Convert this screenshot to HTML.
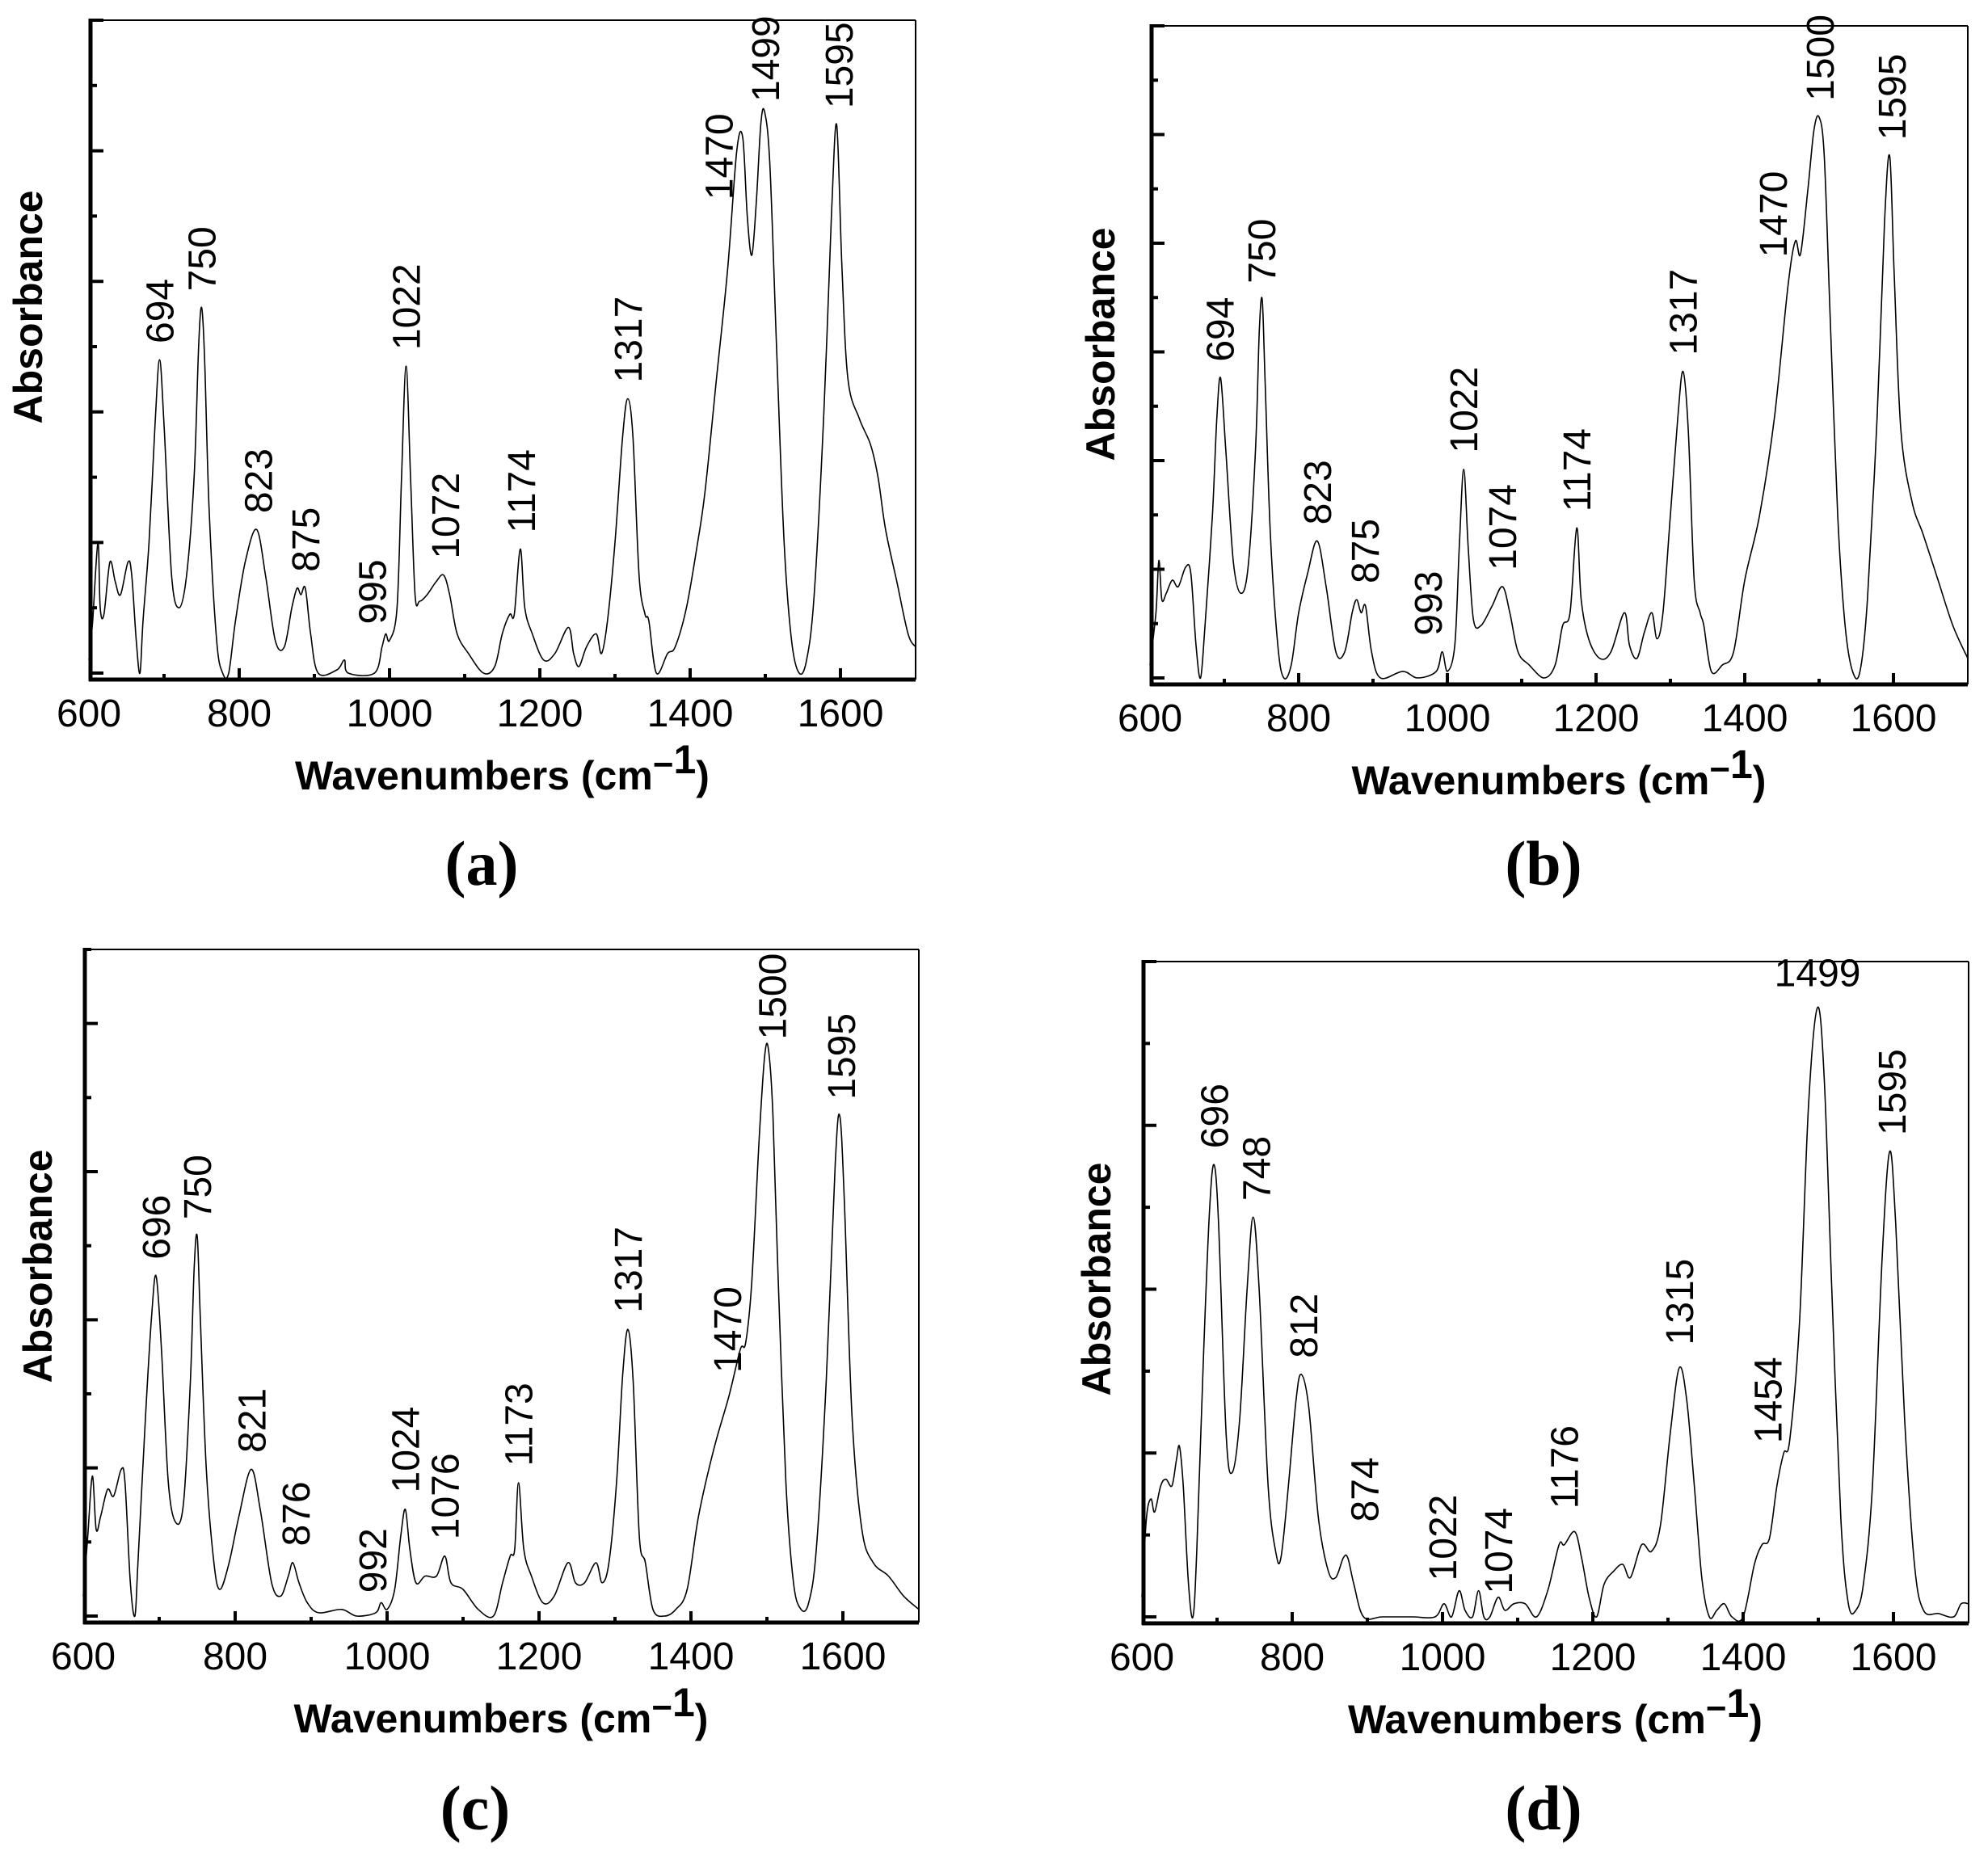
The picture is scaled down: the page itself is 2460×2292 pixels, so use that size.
<!DOCTYPE html>
<html><head><meta charset="utf-8"><style>
html,body{margin:0;padding:0;background:#fff;}
svg{display:block;}
</style></head><body>
<svg id="s" xmlns="http://www.w3.org/2000/svg" width="2460" height="2292" viewBox="0 0 2460 2292">
<rect width="2460" height="2292" fill="#fff"/>
</svg>
<script>
const S=document.getElementById('s');
const NS='http://www.w3.org/2000/svg';
function el(t,a,txt){const e=document.createElementNS(NS,t);for(const k in a)e.setAttribute(k,a[k]);if(txt!==undefined)e.textContent=txt;S.appendChild(e);return e;}
function P(s){const a=s.trim().split(';').map(p=>p.trim().split(',').map(Number));return a;}
const panels=[
{x0:110,x1:1133,yT:25,yB:841,top:25,nt:10,lab:'(a)',lx:596,ly:1067,absx:35,absy:380,
pts:P(`600,0.02;605,0.08;612,0.2;615,0.1;620,0.09;628,0.17;635,0.14;642,0.12;652,0.17;657,0.15;663,0.05;668,0.0;672,0.08;680,0.2;688,0.38;694,0.48;700,0.38;710,0.15;720,0.1;730,0.15;740,0.3;746,0.5;750,0.56;754,0.48;760,0.25;770,0.05;778,0.0;786,0.0;795,0.08;808,0.17;823,0.22;835,0.15;848,0.05;860,0.04;870,0.1;877,0.13;882,0.12;888,0.13;895,0.06;905,0.0;930,0.005;940,0.02;945,0.0;980,0.0;990,0.04;995,0.06;1000,0.05;1010,0.1;1016,0.3;1022,0.47;1028,0.3;1034,0.12;1040,0.11;1050,0.12;1062,0.14;1072,0.15;1080,0.12;1090,0.06;1105,0.03;1125,0.0;1140,0.01;1150,0.06;1160,0.09;1166,0.09;1174,0.19;1180,0.1;1190,0.06;1205,0.02;1220,0.03;1238,0.07;1245,0.03;1252,0.01;1262,0.04;1275,0.06;1282,0.03;1290,0.08;1300,0.2;1310,0.36;1317,0.42;1324,0.36;1332,0.15;1340,0.09;1345,0.08;1355,0.0;1370,0.03;1380,0.04;1395,0.1;1410,0.2;1420,0.28;1435,0.45;1450,0.62;1462,0.8;1470,0.82;1476,0.7;1482,0.64;1488,0.72;1494,0.84;1499,0.86;1506,0.78;1515,0.5;1525,0.2;1535,0.05;1545,0.0;1555,0.02;1565,0.12;1578,0.4;1588,0.7;1595,0.84;1602,0.62;1610,0.45;1625,0.39;1640,0.35;1650,0.3;1660,0.22;1675,0.14;1690,0.06;1700,0.04`),
labels:[['694',694,0.5],['750',750,0.58],['823',825,0.24],['875',888,0.15],['995',977,0.07],['1022',1022,0.49],['1072',1074,0.17],['1174',1175,0.21],['1317',1317,0.44],['1470',1438,0.72],['1499',1500,0.87],['1595',1598,0.86]]},
{x0:1423,x1:2435,yT:32,yB:847,top:32,nt:12,lab:'(b)',lx:1910,ly:1067,absx:1362,absy:426,
pts:P(`600,0.02;608,0.1;612,0.18;616,0.12;622,0.13;630,0.15;638,0.14;648,0.17;655,0.16;662,0.05;668,0.0;674,0.08;684,0.25;690,0.4;695,0.46;702,0.35;712,0.18;722,0.13;732,0.17;742,0.35;747,0.53;751,0.58;755,0.45;762,0.22;772,0.05;780,0.0;790,0.02;800,0.1;812,0.16;825,0.21;837,0.14;850,0.04;862,0.04;872,0.1;878,0.12;884,0.1;890,0.11;898,0.04;910,0.0;940,0.01;960,0.0;985,0.01;993,0.04;1000,0.01;1010,0.05;1016,0.2;1022,0.32;1028,0.2;1035,0.09;1045,0.08;1060,0.11;1074,0.14;1084,0.1;1095,0.04;1110,0.02;1130,0.0;1145,0.02;1155,0.08;1165,0.1;1174,0.23;1180,0.12;1190,0.06;1205,0.03;1220,0.04;1238,0.1;1245,0.05;1255,0.03;1265,0.07;1275,0.1;1282,0.06;1290,0.1;1300,0.25;1310,0.4;1317,0.47;1324,0.38;1332,0.15;1340,0.1;1345,0.08;1355,0.01;1370,0.02;1385,0.04;1400,0.15;1420,0.25;1440,0.4;1458,0.6;1468,0.67;1475,0.65;1485,0.75;1493,0.84;1500,0.86;1507,0.8;1515,0.55;1525,0.25;1535,0.08;1545,0.01;1555,0.01;1565,0.12;1578,0.4;1588,0.7;1595,0.8;1601,0.62;1610,0.38;1625,0.27;1640,0.22;1660,0.15;1680,0.08;1700,0.03`),
labels:[['694',694,0.48],['750',750,0.6],['823',825,0.23],['875',889,0.14],['993',974,0.06],['1022',1022,0.34],['1074',1074,0.16],['1174',1174,0.25],['1317',1317,0.49],['1470',1438,0.64],['1500',1501,0.88],['1595',1598,0.82]]},
{x0:103,x1:1137,yT:1175,yB:2008,top:1175,nt:9,lab:'(c)',lx:588,ly:2236,absx:47,absy:1567,
pts:P(`600,0.03;606,0.12;612,0.21;617,0.13;623,0.15;632,0.19;640,0.18;650,0.22;655,0.2;662,0.05;668,0.0;672,0.08;682,0.3;690,0.45;696,0.51;703,0.4;712,0.2;722,0.14;732,0.17;741,0.35;746,0.52;750,0.57;754,0.45;762,0.22;772,0.08;780,0.04;792,0.08;805,0.15;821,0.22;833,0.16;848,0.05;860,0.03;870,0.06;876,0.08;884,0.05;895,0.02;910,0.005;940,0.01;960,0.0;985,0.005;992,0.02;1000,0.01;1010,0.04;1018,0.12;1024,0.16;1030,0.1;1038,0.05;1050,0.06;1065,0.06;1076,0.09;1084,0.05;1100,0.04;1120,0.01;1140,0.0;1152,0.05;1162,0.09;1168,0.1;1173,0.2;1180,0.1;1190,0.06;1205,0.02;1220,0.03;1238,0.08;1248,0.05;1260,0.05;1275,0.08;1283,0.05;1292,0.08;1302,0.2;1310,0.36;1317,0.43;1324,0.35;1332,0.12;1340,0.08;1350,0.01;1365,0.0;1380,0.01;1395,0.04;1410,0.15;1430,0.25;1450,0.33;1465,0.4;1472,0.41;1480,0.5;1490,0.72;1497,0.84;1502,0.85;1508,0.75;1515,0.5;1525,0.2;1535,0.05;1545,0.01;1555,0.02;1565,0.1;1578,0.35;1590,0.68;1596,0.75;1602,0.62;1612,0.3;1625,0.13;1640,0.08;1660,0.06;1680,0.03;1700,0.01`),
labels:[['696',696,0.53],['750',750,0.59],['821',822,0.24],['876',880,0.1],['992',981,0.03],['1024',1024,0.18],['1076',1076,0.11],['1173',1173,0.22],['1317',1317,0.45],['1470',1448,0.36],['1500',1507,0.86],['1595',1598,0.77]]},
{x0:1413,x1:2436,yT:1190,yB:2009,top:1190,nt:8,lab:'(d)',lx:1910,ly:2236,absx:1357,absy:1583,
pts:P(`600,0.03;606,0.15;612,0.18;617,0.16;625,0.2;632,0.21;640,0.2;646,0.24;650,0.26;655,0.2;662,0.05;668,0.0;673,0.1;682,0.4;690,0.62;696,0.69;702,0.6;712,0.28;720,0.22;730,0.3;740,0.5;748,0.61;756,0.5;768,0.2;778,0.1;785,0.09;795,0.2;805,0.33;812,0.37;822,0.32;835,0.15;848,0.07;858,0.06;868,0.09;874,0.09;882,0.05;895,0.0;920,0.0;960,0.0;990,0.0;1002,0.02;1012,0.0;1022,0.04;1030,0.01;1040,0.0;1048,0.04;1055,0.0;1063,0.0;1074,0.03;1083,0.01;1095,0.02;1110,0.02;1125,0.0;1140,0.04;1155,0.11;1162,0.11;1176,0.13;1185,0.09;1195,0.03;1205,0.0;1215,0.05;1228,0.07;1240,0.08;1250,0.06;1265,0.11;1278,0.1;1290,0.14;1303,0.28;1315,0.38;1325,0.33;1335,0.2;1345,0.06;1355,0.0;1365,0.01;1375,0.02;1385,0.0;1400,0.0;1415,0.08;1425,0.11;1435,0.12;1445,0.2;1454,0.25;1462,0.27;1475,0.45;1487,0.78;1499,0.93;1508,0.82;1518,0.5;1530,0.15;1540,0.02;1550,0.01;1560,0.05;1572,0.2;1585,0.55;1595,0.71;1603,0.6;1615,0.3;1628,0.08;1640,0.01;1660,0.005;1680,0.0;1690,0.02;1700,0.02`),
labels:[['696',696,0.71],['748',752,0.63],['812',815,0.39],['874',896,0.14],['1022',1000,0.05],['1074',1074,0.03],['1176',1162,0.16],['1315',1315,0.41],['1454',1433,0.26],['1499',1499,0.95,'h'],['1595',1598,0.73]]}
];
const F='"Liberation Sans", Arial, sans-serif';
for(const p of panels){
  const X=w=>p.x0+(w-600)/1100*(p.x1-p.x0);
  const base=p.yB-8;
  const Y=h=>base-h*(base-p.top);
  const pts=p.pts.map(a=>[X(a[0]),Y(a[1])]);
  let d='M'+pts[0][0].toFixed(1)+','+pts[0][1].toFixed(1);
  for(let i=0;i<pts.length-1;i++){
    const p0=pts[Math.max(i-1,0)],p1=pts[i],p2=pts[i+1],p3=pts[Math.min(i+2,pts.length-1)];
    const c1=[p1[0]+(p2[0]-p0[0])/6,p1[1]+(p2[1]-p0[1])/6];
    const c2=[p2[0]-(p3[0]-p1[0])/6,p2[1]-(p3[1]-p1[1])/6];
    d+=' C'+c1.map(v=>v.toFixed(1)).join(',')+' '+c2.map(v=>v.toFixed(1)).join(',')+' '+p2.map(v=>v.toFixed(1)).join(',');
  }
  el('path',{d:d,fill:'none',stroke:'#000','stroke-width':1.6});
  el('line',{x1:p.x0,y1:p.yT,x2:p.x1,y2:p.yT,stroke:'#000','stroke-width':2});
  el('line',{x1:p.x1,y1:p.yT,x2:p.x1,y2:p.yB,stroke:'#000','stroke-width':2});
  el('line',{x1:p.x0+2,y1:p.yT-2,x2:p.x0+2,y2:p.yB+2,stroke:'#000','stroke-width':5});
  el('line',{x1:p.x0,y1:p.yB,x2:p.x1,y2:p.yB,stroke:'#000','stroke-width':5});
  for(let w=600;w<=1700;w+=100){
    const x=X(w);const L=(w%200===0)?14:7;
    if(w>600&&w<1700) el('line',{x1:x,y1:p.yB,x2:x,y2:p.yB-L,stroke:'#000','stroke-width':4});
    if(w%200===0) el('text',{x:x,y:p.yB+58,'font-family':F,'font-size':48,'text-anchor':'middle'},String(w));
  }
  for(let i=0;i<=p.nt;i++){
    const y=p.yB-8-i*(p.yB-8-p.yT)/p.nt;
    const L=(i%2===0)?18:10;
    el('line',{x1:p.x0,y1:y,x2:p.x0+L,y2:y,stroke:'#000','stroke-width':4});
  }
  const cx=(p.x0+p.x1)/2;
  const t=el('text',{x:cx,y:p.yB+136,'font-family':F,'font-size':50,'font-weight':'bold','text-anchor':'middle'});
  t.textContent='Wavenumbers (cm';
  const ts=document.createElementNS(NS,'tspan');ts.setAttribute('dy',-16);ts.setAttribute('font-size',44);ts.textContent='\u2212';t.appendChild(ts);
  const t1=document.createElementNS(NS,'tspan');t1.setAttribute('dy',-4);t1.setAttribute('font-size',50);t1.textContent='1';t.appendChild(t1);
  const t2=document.createElementNS(NS,'tspan');t2.setAttribute('dy',20);t2.textContent=')';t.appendChild(t2);
  el('text',{x:0,y:0,transform:`translate(${p.absx+17},${p.absy}) rotate(-90)`,'font-family':F,'font-size':50,'font-weight':'bold','text-anchor':'middle'},'Absorbance');
  el('text',{x:p.lx,y:p.ly+28,'font-family':'"Liberation Serif", serif','font-size':78,'font-weight':'bold','text-anchor':'middle'},p.lab);
  for(const l of p.labels){
    const x=X(l[1]),y=Y(l[2])-4;
    if(l[3]==='h') el('text',{x:x,y:y-6,'font-family':F,'font-size':48,'text-anchor':'middle'},l[0]);
    else el('text',{x:0,y:0,transform:`translate(${x+17},${y}) rotate(-90)`,'font-family':F,'font-size':48},l[0]);
  }
}
</script>
</body></html>
